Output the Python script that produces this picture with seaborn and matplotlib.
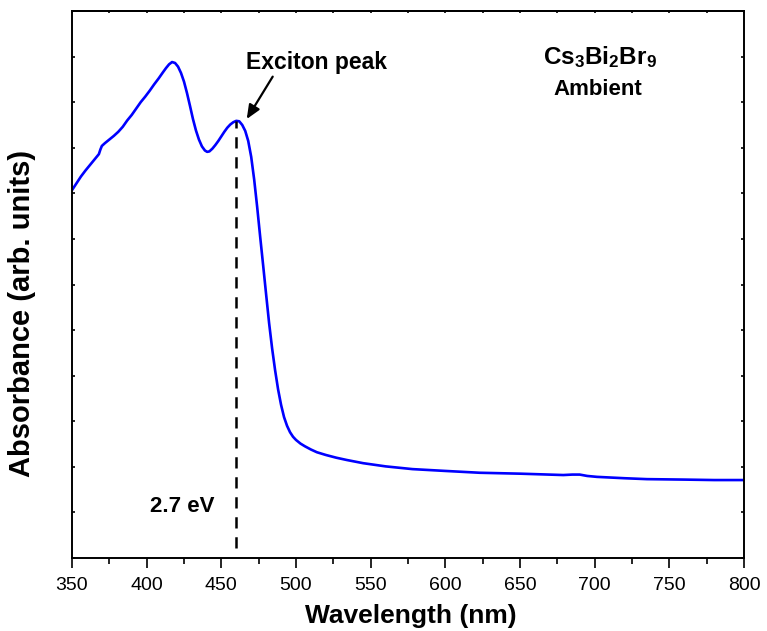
import matplotlib
matplotlib.use("Agg")
import matplotlib.pyplot as plt
import seaborn as sns
import pandas as pd
from matplotlib.ticker import MultipleLocator, NullFormatter

# ---- data ----
wavelength = [350, 353, 356, 359, 362, 365, 368, 369, 370, 372, 375, 378, 381, 384,
              387, 390, 393, 396, 399, 402, 405, 408, 411, 413, 415, 417, 419, 421,
              423, 425, 427, 429, 431, 433, 435, 437, 439, 440.5, 442, 444, 446, 448,
              450, 452, 454, 456, 458, 460, 462, 464, 466, 468, 470, 472, 474, 476,
              478, 480, 482, 484, 486, 488, 490, 492, 494, 496, 498, 500, 503, 506,
              510, 514, 520, 527, 534, 545, 560, 578, 600, 623, 650, 679, 685, 690,
              695, 701.5, 720, 735, 760, 780, 800]
absorbance = [8.07, 8.22, 8.37, 8.50, 8.62, 8.74, 8.86, 8.96, 9.04, 9.10, 9.18, 9.26,
              9.35, 9.46, 9.60, 9.72, 9.86, 10.00, 10.12, 10.25, 10.39, 10.52, 10.66,
              10.75, 10.83, 10.88, 10.86, 10.78, 10.64, 10.45, 10.20, 9.92, 9.63,
              9.38, 9.18, 9.03, 8.94, 8.91, 8.92, 8.98, 9.06, 9.15, 9.25, 9.35, 9.44,
              9.51, 9.56, 9.59, 9.58, 9.50, 9.37, 9.15, 8.80, 8.30, 7.70, 7.05, 6.42,
              5.78, 5.15, 4.60, 4.12, 3.70, 3.36, 3.09, 2.90, 2.76, 2.66, 2.59, 2.51,
              2.45, 2.38, 2.32, 2.26, 2.20, 2.15, 2.08, 2.01, 1.95, 1.91, 1.87, 1.85,
              1.82, 1.83, 1.83, 1.80, 1.78, 1.75, 1.73, 1.72, 1.71, 1.71]
xticks = [350, 400, 450, 500, 550, 600, 650, 700, 750, 800]
exciton_wl = 460
exciton_abs = 9.59
dash_bottom = 0.22

df = pd.DataFrame({"Wavelength": wavelength, "Absorbance": absorbance})

sns.set_theme(style="ticks")
plt.rcParams["font.family"] = ["Liberation Sans", "DejaVu Sans"]
plt.rcParams["mathtext.fontset"] = "custom"
plt.rcParams["mathtext.rm"] = "Liberation Sans"
plt.rcParams["mathtext.bf"] = "Liberation Sans:bold"
for k in ["text.color", "axes.labelcolor", "xtick.color", "ytick.color", "axes.edgecolor"]:
    plt.rcParams[k] = "black"

fig = plt.figure(figsize=(7.67, 6.31), dpi=100)
ax = fig.add_axes([72 / 767, 1 - 558 / 631, (744 - 72) / 767, (558 - 11) / 631])

sns.lineplot(data=df, x="Wavelength", y="Absorbance", ax=ax, color="#0000FF",
             linewidth=1.9, sort=False)

ax.plot([exciton_wl, exciton_wl], [dash_bottom, exciton_abs], color="black",
        linewidth=1.8, linestyle=(0, (4.5, 3.5)))

ax.set_xlim(350, 800)
ax.set_ylim(0, 12)
ax.set_xticks(xticks)
ax.xaxis.set_minor_locator(MultipleLocator(25))
ax.yaxis.set_major_locator(MultipleLocator(1))
ax.yaxis.set_major_formatter(NullFormatter())

for s in ax.spines.values():
    s.set_linewidth(1.4)
    s.set_color("black")

ax.tick_params(axis="x", which="major", direction="out", length=7, width=1.2,
               labelsize=14, pad=6.5)
ax.tick_params(axis="x", which="minor", direction="out", length=4.2, width=1.2)
ax.tick_params(axis="y", which="major", direction="in", length=2, width=1.2,
               left=True, right=True)

top = ax.secondary_xaxis("top")
top.set_xticks(xticks)
top.xaxis.set_minor_locator(MultipleLocator(25))
top.tick_params(axis="x", which="both", direction="in", length=1.5, width=1.2,
                labeltop=False)
top.spines["top"].set_linewidth(1.4)

ax.set_xlabel("Wavelength (nm)", fontsize=19, fontweight="bold")
ax.xaxis.set_label_coords((411 - 72) / 672, (558 - 604) / 547)
ax.set_ylabel("Absorbance (arb. units)", fontsize=21, fontweight="bold")
ax.yaxis.set_label_coords((36 - 72) / 672, (558 - 313) / 547)

ax.text(514, 10.88, "Exciton peak", fontsize=16.5, fontweight="bold",
        ha="center", va="center")
ax.annotate("", xy=(467, 9.63), xytext=(484.4, 10.56),
            arrowprops=dict(arrowstyle="-|>,head_length=0.7,head_width=0.3",
                            color="black", lw=1.6, shrinkA=0, shrinkB=0))
ax.text(423.7, 1.14, "2.7 eV", fontsize=16, fontweight="bold", ha="center", va="center")
ax.text(703.6, 11.0, r"$\mathbf{Cs_3Bi_2Br_9}$", fontsize=17.5, ha="center", va="center")
ax.text(702, 10.27, "Ambient", fontsize=16, fontweight="bold", ha="center", va="center")

fig.savefig("out.png", dpi=100)
